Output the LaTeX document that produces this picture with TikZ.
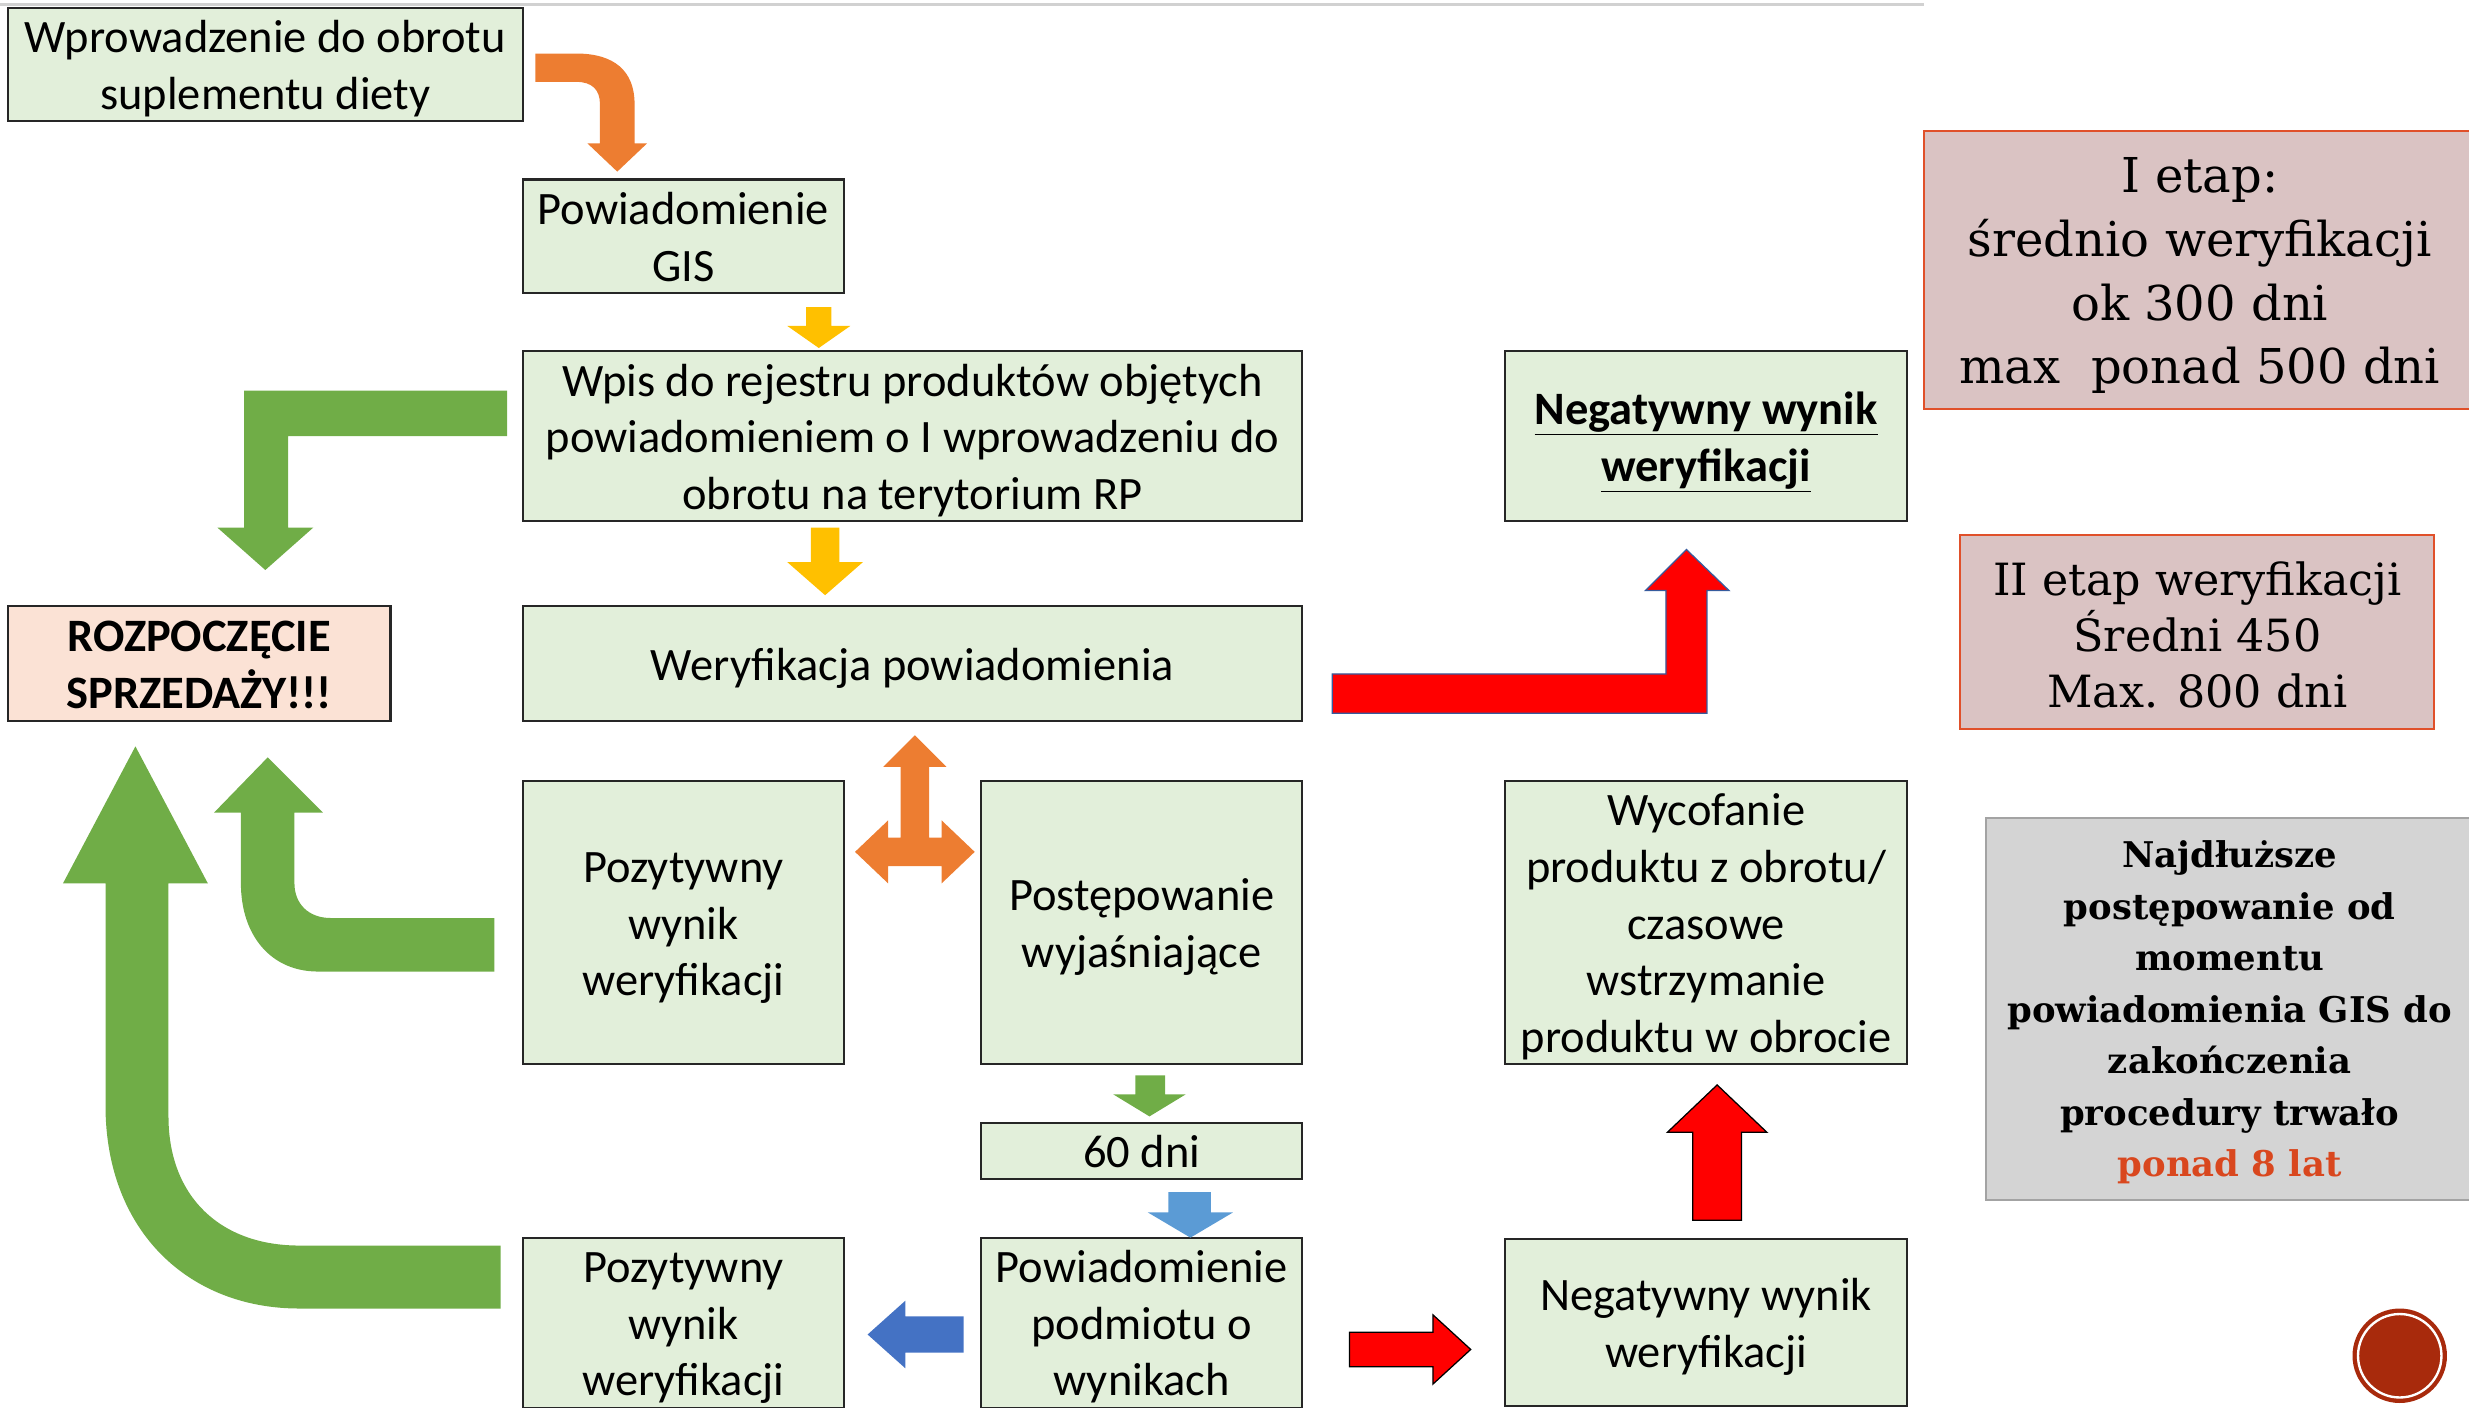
\documentclass[tikz,border=0pt]{standalone}
\usepackage{fontspec}
\setmainfont{Carlito}
\newfontfamily\serifx{DejaVu Serif}
\definecolor{boxfill}{HTML}{E2EFDA}
\definecolor{boxline}{HTML}{262626}
\definecolor{salmon}{HTML}{FBE2D5}
\definecolor{agreen}{HTML}{70AD47}
\definecolor{aorange}{HTML}{ED7D31}
\definecolor{ayellow}{HTML}{FFC000}
\definecolor{alblue}{HTML}{5B9BD5}
\definecolor{ablue}{HTML}{4472C4}
\definecolor{ared}{HTML}{FF0000}
\definecolor{pinkfill}{HTML}{DAC3C3}
\definecolor{rborder}{HTML}{E0502A}
\definecolor{greyfill}{HTML}{D4D4D4}
\definecolor{greyline}{HTML}{A3A3A3}
\definecolor{lateorange}{HTML}{D9471E}
\definecolor{dotred}{HTML}{A82A0C}
\newcommand\boxfont{\fontsize{29.5}{36}\selectfont}
\newcommand\bx[1]{\raisebox{-3.3pt}[\height][\depth]{\begin{tabular}{@{}c@{}}#1\end{tabular}}}
\tikzset{
  box/.style={draw=boxline, line width=1.3pt, fill=boxfill, inner sep=0pt, font=\boxfont},
  rbox/.style={draw=rborder, line width=1.3pt, fill=pinkfill, align=center, inner sep=0pt},
}
\begin{document}
\begin{tikzpicture}[x=1pt,y=-1pt]
\useasboundingbox (0,0) rectangle (1568,894);
% top rule
\draw[line width=2pt, color=black!18] (0,3) -- (1222,3);

% boxes
\node[box, minimum width=327, minimum height=72] (intro) at (168.5,41) {\bx{Wprowadzenie do obrotu\\suplementu diety}};
\node[box, minimum width=204, minimum height=72] (gis) at (434,150) {\bx{Powiadomienie\\GIS}};
\node[box, minimum width=495, minimum height=108] (wpis) at (579.5,277) {\bx{Wpis do rejestru produktów objętych\\powiadomieniem o I wprowadzeniu do\\obrotu na terytorium RP}};
\node[box, minimum width=495, minimum height=73] (wer) at (579.5,421.5) {\bx{Weryfikacja powiadomienia}};
\node[box, fill=salmon, minimum width=243, minimum height=73, font=\boxfont\bfseries] (start) at (126.5,421.5) {\bx{ROZPOCZĘCIE\\SPRZEDAŻY!!!}};
\node[box, minimum width=204, minimum height=180] (poz1) at (434,586) {\bx{Pozytywny\\wynik\\weryfikacji}};
\node[box, minimum width=204, minimum height=180] (post) at (725,586) {\bx{Postępowanie\\wyjaśniające}};
\node[box, minimum width=204, minimum height=36] (dni) at (725,731) {\bx{60 dni}};
\node[box, minimum width=204, minimum height=106] (podm) at (725,840) {\bx{Powiadomienie\\podmiotu o\\wynikach}};
\node[box, minimum width=204, minimum height=106] (poz2) at (434,840) {\bx{Pozytywny\\wynik\\weryfikacji}};
\node[box, minimum width=255, minimum height=108, font=\boxfont\bfseries] (neg1) at (1083.5,277) {\bx{\underline{Negatywny wynik}\\\underline{weryfikacji}}};
\node[box, minimum width=255, minimum height=180] (wyc) at (1083.5,586) {\bx{Wycofanie\\produktu z obrotu/\\czasowe\\wstrzymanie\\produktu w obrocie}};
\node[box, minimum width=255, minimum height=106] (neg2) at (1083.5,840) {\bx{Negatywny wynik\\weryfikacji}};

% right info boxes
\begin{scope}
\clip (0,0) rectangle (1568,894);
\node[rbox, minimum width=350, minimum height=177, font=\serifx\fontsize{30.5}{40.5}\selectfont] (etap1) at (1397,171.5) {\rule{0pt}{29.5pt}I etap:\\średnio weryfikacji\\ok 300 dni\\max\ \ ponad 500 dni};
\node[rbox, minimum width=301, minimum height=123, font=\serifx\fontsize{28.2}{35.5}\selectfont] (etap2) at (1395.5,401.5) {\rule{0pt}{24.5pt}II etap weryfikacji\\Średni 450\\Max. 800 dni};
\node[draw=greyline, line width=1.3pt, fill=greyfill, align=center, inner sep=0pt, minimum width=310, minimum height=242.5, font=\serifx\bfseries\fontsize{22.5}{32.7}\selectfont] (najd) at (1416,641) {\rule{0pt}{21pt}Najdłuższe\\postępowanie od\\momentu\\powiadomienia GIS do\\zakończenia\\procedury trwało\\\textcolor{lateorange}{ponad 8 lat}};
\end{scope}

% corner dot
\node[circle, fill=dotred, minimum size=60, inner sep=0pt] (dot) at (1524,861) {};
\draw[white, line width=1.5pt] (dot.center) circle (26.5);

% orange curved arrow intro -> gis
\fill[aorange] (340,34) -- (366,34) .. controls (390,34) and (403,45) .. (403,66) -- (403,91) -- (411,91) -- (392,109) -- (373,91) -- (381,91) -- (381,66) .. controls (381,57) and (376,52) .. (366,52) -- (340,52) -- cycle;

% yellow arrows
\fill[ayellow] (512,195) -- (528,195) -- (528,207) -- (540,207) -- (520,221) -- (500,207) -- (512,207) -- cycle;
\fill[ayellow] (515,335) -- (533,335) -- (533,357) -- (548,357) -- (524,378) -- (500,357) -- (515,357) -- cycle;

% green L arrow wpis -> start
\fill[agreen] (322,248) -- (155,248) -- (155,335) -- (138,335) -- (168.5,362) -- (199,335) -- (183,335) -- (183,277) -- (322,277) -- cycle;

% orange three-way arrow
\fill[aorange] (581,467) -- (601,487) -- (590,487) -- (590,532) -- (598,532) -- (598,521) -- (619,541) -- (598,561) -- (598,550) -- (564,550) -- (564,561) -- (543,541) -- (564,521) -- (564,532) -- (572,532) -- (572,487) -- (561,487) -- cycle;

% green curved arrow poz1 -> start
\fill[agreen] (314,583) -- (210,583) .. controls (196,583) and (187,574) .. (187,561) -- (187,516) -- (205,516) -- (170,481) -- (136,516) -- (153,516) -- (153,561) .. controls (153,594) and (172,617) .. (202,617) -- (314,617) -- cycle;

% big green curved arrow poz2 -> start
\fill[agreen] (318,791) -- (190,791) .. controls (140,791) and (107,760) .. (107,709) -- (107,561) -- (132,561) -- (86,474) -- (40,561) -- (67,561) -- (67,702) .. controls (67,782) and (120,831) .. (190,831) -- (318,831) -- cycle;

% small arrows down
\fill[agreen] (721,683) -- (740,683) -- (740,695) -- (753,695) -- (730,709) -- (707,695) -- (721,695) -- cycle;
\fill[alblue] (742,757) -- (769,757) -- (769,770) -- (783,770) -- (756,786) -- (729,770) -- (742,770) -- cycle;

% blue left arrow podm -> poz2
\fill[ablue] (612,836) -- (575,836) -- (575,826) -- (551,847.5) -- (575,869) -- (575,859) -- (612,859) -- cycle;

% red bent arrow wer -> neg1
\filldraw[fill=ared, draw=ablue!80!black, line width=0.8pt] (846,428) -- (1058,428) -- (1058,375) -- (1045,375) -- (1071,349) -- (1098,375) -- (1084,375) -- (1084,453) -- (846,453) -- cycle;

% red up arrow neg2 -> wyc
\filldraw[fill=ared, draw=black, line width=0.8pt] (1075,775) -- (1075,719) -- (1059,719) -- (1090.5,689) -- (1122,719) -- (1106,719) -- (1106,775) -- cycle;

% red right arrow podm -> neg2
\filldraw[fill=ared, draw=black, line width=0.8pt] (857,846) -- (910,846) -- (910,835) -- (934,857) -- (910,879) -- (910,868) -- (857,868) -- cycle;
\end{tikzpicture}
\end{document}
